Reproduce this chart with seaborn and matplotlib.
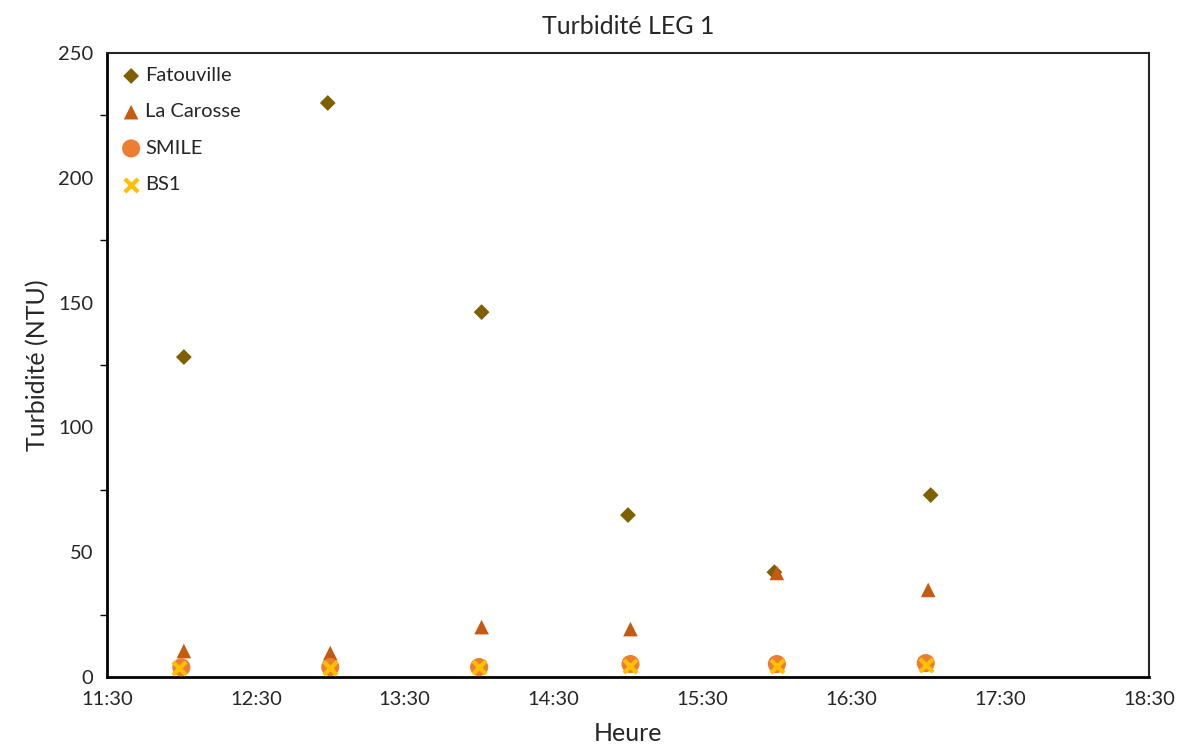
import numpy as np
import pandas as pd
import matplotlib
matplotlib.use("Agg")
import matplotlib.pyplot as plt
import seaborn as sns
from matplotlib.ticker import MultipleLocator, FixedLocator, FuncFormatter

# times of sampling
fat_time = ["12:01", "12:59", "14:01", "15:00", "15:59", "17:02"]
fat_ntu = [128.2, 230.0, 146.2, 64.9, 42.0, 72.9]

car_time = ["12:01", "13:00", "14:01", "15:01", "16:00", "17:01"]
car_ntu = [10.4, 9.6, 20.0, 19.2, 41.7, 34.9]

smile_time = ["12:00", "13:00", "14:00", "15:01", "16:00", "17:00"]
smile_ntu = [3.9, 4.0, 4.0, 5.2, 5.2, 5.6]

bs1_time = ["11:59", "13:00", "14:00", "15:01", "16:00", "17:00"]
bs1_ntu = [3.6, 3.5, 4.0, 4.4, 4.5, 4.8]

x_ticks = ["11:30", "12:30", "13:30", "14:30", "15:30", "16:30", "17:30", "18:30"]


def to_hours(times):
    out = []
    for t in times:
        h, m = t.split(":")
        out.append(int(h) + int(m) / 60)
    return out


sns.set_style("white")
plt.rcParams["font.family"] = ["Lato", "DejaVu Sans"]

fig = plt.figure(figsize=(11.87, 7.44), dpi=100)
ax = fig.add_axes([0.0901, 0.090, 0.8779, 0.8387])

series = [
    ("Fatouville", fat_time, fat_ntu, "D", "#7F6000", 65, 0),
    ("La Carosse", car_time, car_ntu, "^", "#C55A11", 110, 0),
    ("SMILE", smile_time, smile_ntu, "o", "#ED7D31", 170, 0),
    ("BS1", bs1_time, bs1_ntu, "x", "#FFC000", 90, 3),
]

for name, t, v, mk, col, s, lw in series:
    df = pd.DataFrame({"Heure": to_hours(t), "NTU": v})
    if mk == "x":
        sns.scatterplot(data=df, x="Heure", y="NTU", marker=mk, color=col,
                        s=s, linewidth=lw, label=name, ax=ax, zorder=4)
    else:
        sns.scatterplot(data=df, x="Heure", y="NTU", marker=mk, color=col,
                        s=s, edgecolor="none", label=name, ax=ax, zorder=3)

tick_pos = to_hours(x_ticks)
ax.set_xlim(tick_pos[0], tick_pos[-1])
ax.set_ylim(0, 250)
ax.xaxis.set_major_locator(FixedLocator(tick_pos))
ax.set_xticklabels(x_ticks)
ax.yaxis.set_major_locator(MultipleLocator(50))
ax.yaxis.set_minor_locator(MultipleLocator(25))

ax.tick_params(axis="both", which="major", direction="inout", length=8,
               width=1.3, labelsize=14.5, color="black", pad=6)
ax.tick_params(axis="y", which="minor", direction="out", length=5,
               width=1, color="black", left=True)
ax.tick_params(axis="x", which="minor", bottom=False)

ax.spines["left"].set_color("black")
ax.spines["left"].set_linewidth(2)
ax.spines["bottom"].set_color("black")
ax.spines["bottom"].set_linewidth(2)
for sp in ["top", "right"]:
    ax.spines[sp].set_color("#262626")
    ax.spines[sp].set_linewidth(1.5)

ax.set_xlabel("Heure", fontsize=18, labelpad=10)
ax.set_ylabel("Turbidité (NTU)", fontsize=18, labelpad=6)
ax.set_title("Turbidité LEG 1", fontsize=18, pad=14)

leg = ax.legend(loc="upper left", frameon=False, fontsize=14.5,
                handletextpad=0.2, labelspacing=0.95, borderaxespad=0.3,
                handlelength=1.0)

fig.savefig("out.png", dpi=100)
